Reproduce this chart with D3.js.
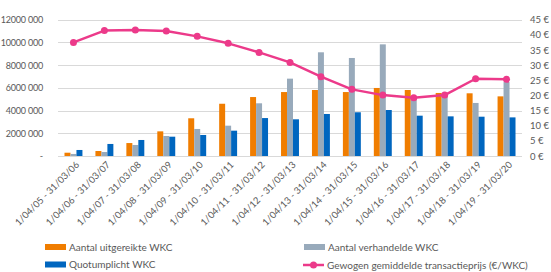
<!DOCTYPE html>
<html>
<head>
<meta charset="utf-8">
<script src="https://cdn.jsdelivr.net/npm/d3@7"></script>
<style>
  body { margin: 0; background: #fff; }
  svg { font-family: Lato, "Open Sans", sans-serif; }
</style>
</head>
<body>
<div id="chart"></div>
<script>
// Data
const periods = [
    '1/04/05 - 31/03/06', '1/04/06 - 31/03/07', '1/04/07 - 31/03/08', '1/04/08 - 31/03/09',
    '1/04/09 - 31/03/10', '1/04/10 - 31/03/11', '1/04/11 - 31/03/12', '1/04/12 - 31/03/13',
    '1/04/13 - 31/03/14', '1/04/14 - 31/03/15', '1/04/15 - 31/03/16', '1/04/16 - 31/03/17',
    '1/04/17 - 31/03/18', '1/04/18 - 31/03/19', '1/04/19 - 31/03/20'
];
const uitgereikt = [290000, 440000, 1140000, 2170000, 3320000, 4600000, 5190000, 5630000,
    5810000, 5630000, 5990000, 5810000, 5550000, 5520000, 5250000];
const verhandeld = [180000, 350000, 970000, 1760000, 2380000, 2670000, 4640000, 6810000,
    9130000, 8630000, 9830000, 5080000, 5370000, 4670000, 6510000];
const quotum = [530000, 1060000, 1410000, 1700000, 1850000, 2230000, 3340000, 3230000,
    3700000, 3850000, 4050000, 3550000, 3490000, 3460000, 3400000];
const prijs = [37.5, 41.4, 41.6, 41.3, 39.5, 37.2, 34.2, 30.9, 26.2, 22.0, 20.1, 19.2, 20.1, 25.5, 25.3];

const leftTicks = [0, 2000000, 4000000, 6000000, 8000000, 10000000, 12000000];
const leftTickLabels = ['-', '2000 000', '4000 000', '6000 000', '8000 000', '10000 000', '12000 000'];
const rightTicks = [0, 5, 10, 15, 20, 25, 30, 35, 40, 45];

const seriesNames = ['Aantal uitgereikte WKC', 'Aantal verhandelde WKC', 'Quotumplicht WKC'];
const seriesColors = ['#F07D00', '#98AABB', '#0066BF'];
const lineName = 'Gewogen gemiddelde transactieprijs  (€/WKC)';
const lineColor = '#EC3A8A';

const width = 551, height = 272;
const plot = { left: 58, right: 522, top: 19.7, bottom: 156 };

const svg = d3.select('#chart').append('svg')
    .attr('width', width)
    .attr('height', height);

const x = d3.scaleBand()
    .domain(periods)
    .range([plot.left, plot.right])
    .paddingInner(0.42)
    .paddingOuter(0.21);

const xInner = d3.scaleBand()
    .domain(d3.range(3))
    .range([0, x.bandwidth()]);

const yLeft = d3.scaleLinear().domain([0, 12000000]).range([plot.bottom, plot.top]);
const yRight = d3.scaleLinear().domain([0, 45]).range([plot.bottom, plot.top]);

// Gridlines
svg.append('g')
    .selectAll('line')
    .data(leftTicks)
    .enter()
    .append('line')
    .attr('x1', plot.left)
    .attr('x2', plot.right)
    .attr('y1', d => Math.round(yLeft(d)) + 0.5)
    .attr('y2', d => Math.round(yLeft(d)) + 0.5)
    .style('stroke', '#D9D9D9')
    .style('stroke-width', 1);

// Left axis
const leftAxis = svg.append('g')
    .attr('transform', `translate(${plot.left}, 0)`)
    .call(d3.axisLeft(yLeft)
        .tickValues(leftTicks)
        .tickSize(0)
        .tickPadding(15)
        .tickFormat((d, i) => leftTickLabels[i]));
leftAxis.select('.domain').remove();
leftAxis.selectAll('text')
    .style('font-family', 'Lato, sans-serif')
    .style('font-size', '9px')
    .style('letter-spacing', '-0.2px')
    .style('fill', '#595959');

// Right axis
const rightAxis = svg.append('g')
    .attr('transform', `translate(${plot.right}, 0)`)
    .call(d3.axisRight(yRight)
        .tickValues(rightTicks)
        .tickSize(0)
        .tickPadding(8)
        .tickFormat(d => d + ' €'));
rightAxis.select('.domain').remove();
rightAxis.selectAll('text')
    .style('font-family', 'Lato, sans-serif')
    .style('font-size', '9.5px')
    .style('fill', '#595959');

// Bars
const seriesData = [uitgereikt, verhandeld, quotum];
seriesData.forEach((values, s) => {
    svg.append('g')
        .selectAll('rect')
        .data(values)
        .enter()
        .append('rect')
        .attr('x', (d, i) => x(periods[i]) + xInner(s))
        .attr('y', d => yLeft(d))
        .attr('width', xInner.bandwidth())
        .attr('height', d => plot.bottom - yLeft(d))
        .style('fill', seriesColors[s]);
});

// Line
const line = d3.line()
    .x((d, i) => x(periods[i]) + x.bandwidth() / 2)
    .y(d => yRight(d));

svg.append('path')
    .datum(prijs)
    .attr('d', line)
    .style('fill', 'none')
    .style('stroke', lineColor)
    .style('stroke-width', 2.5)
    .style('stroke-linejoin', 'round');

svg.append('g')
    .selectAll('circle')
    .data(prijs)
    .enter()
    .append('circle')
    .attr('cx', (d, i) => x(periods[i]) + x.bandwidth() / 2)
    .attr('cy', d => yRight(d))
    .attr('r', 3.5)
    .style('fill', lineColor);

// X labels, rotated
svg.append('g')
    .selectAll('text')
    .data(periods)
    .enter()
    .append('text')
    .attr('transform', d => `translate(${x(d) + x.bandwidth() / 2 + 4}, 163) rotate(-45)`)
    .attr('text-anchor', 'end')
    .attr('dy', '0.35em')
    .style('font-size', '9.5px')
    .style('fill', '#595959')
    .text(d => d);

// Legend
const legendItems = [
    { name: seriesNames[0], color: seriesColors[0], x: 45, y: 247, type: 'bar' },
    { name: seriesNames[1], color: seriesColors[1], x: 304, y: 247, type: 'bar' },
    { name: seriesNames[2], color: seriesColors[2], x: 45, y: 264.5, type: 'bar' },
    { name: lineName, color: lineColor, x: 303, y: 265, type: 'line' }
];

const legend = svg.append('g')
    .selectAll('g')
    .data(legendItems)
    .enter()
    .append('g')
    .attr('transform', d => `translate(${d.x}, ${d.y})`);

legend.filter(d => d.type === 'bar')
    .append('rect')
    .attr('x', 0)
    .attr('y', -3)
    .attr('width', 21)
    .attr('height', 6)
    .style('fill', d => d.color);

legend.filter(d => d.type === 'line')
    .append('line')
    .attr('x1', 0)
    .attr('x2', 21)
    .style('stroke', d => d.color)
    .style('stroke-width', 2.5);

legend.filter(d => d.type === 'line')
    .append('circle')
    .attr('cx', 10.5)
    .attr('r', 3.5)
    .style('fill', d => d.color);

legend.append('text')
    .attr('x', 24)
    .attr('dy', '0.35em')
    .style('font-size', '10px')
    .style('fill', '#595959')
    .text(d => d.name);
</script>
</body>
</html>
